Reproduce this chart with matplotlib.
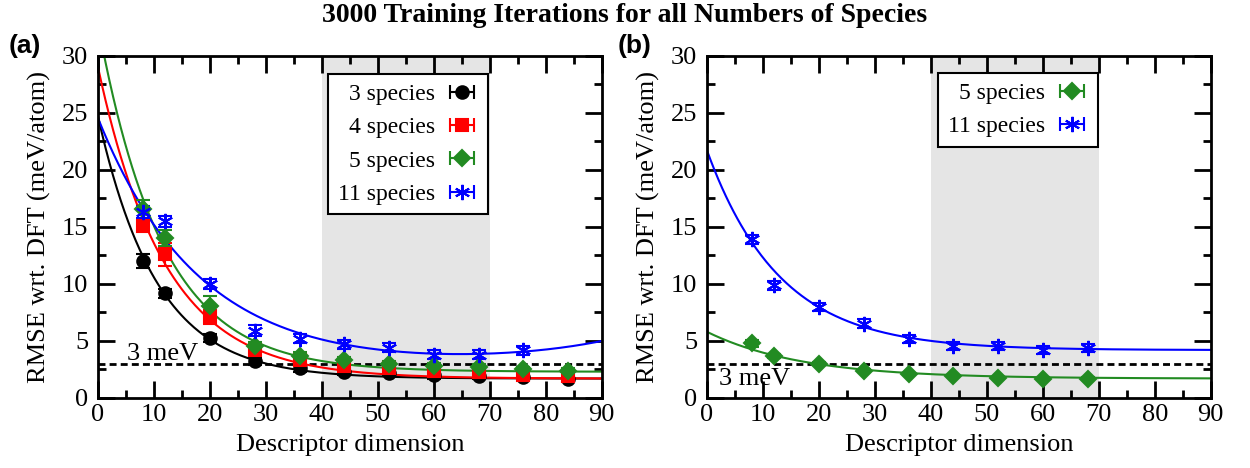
import numpy as np
import matplotlib.pyplot as plt
from matplotlib.ticker import MultipleLocator

# data
dims = [8, 12, 20, 28, 36, 44, 52, 60, 68, 76, 84]

rmse_3 = [12.0, 9.2, 5.3, 3.2, 2.6, 2.3, 2.2, 2.0, 1.9, 1.8, 1.7]
err_3 = [0.6, 0.4, 0.35, 0.3, 0.3, 0.25, 0.25, 0.3, 0.25, 0.2, 0.2]
rmse_4 = [15.1, 12.6, 7.1, 4.2, 3.3, 2.8, 2.6, 2.4, 2.3, 2.0, 1.9]
err_4 = [0.5, 1.0, 0.6, 0.35, 0.3, 0.25, 0.25, 0.3, 0.25, 0.2, 0.2]
rmse_5 = [16.6, 14.0, 8.1, 4.6, 3.7, 3.3, 3.0, 2.8, 2.7, 2.5, 2.4]
err_5 = [0.8, 0.7, 0.8, 0.3, 0.3, 0.3, 0.25, 0.25, 0.25, 0.2, 0.2]
rmse_11 = [16.3, 15.5, 10.0, 5.9, 5.2, 4.7, 4.4, 3.8, 3.8, 4.2]
err_11 = [0.5, 0.5, 0.4, 0.5, 0.4, 0.4, 0.4, 0.4, 0.4, 0.4]

dims_b = [8, 12, 20, 28, 36, 44, 52, 60, 68]
rmse_5b = [4.8, 3.7, 3.0, 2.4, 2.1, 1.9, 1.75, 1.7, 1.7]
err_5b = [0.3, 0.2, 0.15, 0.15, 0.1, 0.1, 0.1, 0.1, 0.1]
rmse_11b = [13.9, 9.9, 8.0, 6.5, 5.2, 4.6, 4.6, 4.2, 4.4]
err_11b = [0.4, 0.4, 0.35, 0.4, 0.35, 0.35, 0.35, 0.35, 0.35]

# fit parameters a*exp(-x/b) + c (+ k*exp((x-90)/g) for the 11 species curve in (a))
fit_3 = (23.0, 10.5, 1.7)
fit_4 = (27.3, 12.0, 1.7)
fit_5 = (30.5, 11.5, 2.3)
fit_11 = (22.0, 18.0, 2.5, 2.35, 22.0)
fit_5b = (4.1, 17.0, 1.7)
fit_11b = (17.5, 13.0, 4.2)

shade = (40, 70)
target = 3.0

plt.rcParams['font.family'] = ['Liberation Serif', 'DejaVu Serif']

BLACK, RED, GREEN, BLUE = '#000000', '#ff0000', '#228b22', '#0000ff'
ASTER = (6, 2, 0)
FS = 19
LFS = 17

xs = np.linspace(0, 90, 400)


def expfit(p, x):
    return p[0] * np.exp(-x / p[1]) + p[2]


def expfit_rise(p, x):
    return p[0] * np.exp(-x / p[1]) + p[2] + p[3] * np.exp((x - 90) / p[4])


def style_axes(ax):
    ax.set_xlim(0, 90)
    ax.set_ylim(0, 30)
    ax.axvspan(shade[0], shade[1], color='#e5e5e5', zorder=0, lw=0)
    ax.axhline(target, color='k', ls=(0, (2.5, 1.5)), lw=2, zorder=1)
    ax.xaxis.set_major_locator(MultipleLocator(10))
    ax.xaxis.set_minor_locator(MultipleLocator(5))
    ax.yaxis.set_major_locator(MultipleLocator(5))
    ax.yaxis.set_minor_locator(MultipleLocator(2.5))
    ax.tick_params(which='both', direction='in', top=True, right=True, width=2,
                   labelsize=FS)
    ax.tick_params(axis='x', pad=4)
    ax.tick_params(axis='y', pad=7)
    ax.tick_params(which='major', length=12)
    ax.tick_params(which='minor', length=6)
    for s in ax.spines.values():
        s.set_linewidth(2)
    ax.set_xlabel('Descriptor dimension', fontsize=FS, labelpad=6)
    ax.set_ylabel('RMSE wrt. DFT (meV/atom)', fontsize=FS, labelpad=8)


def series(ax, x, y, e, color, marker, ms):
    ax.errorbar(x, y, yerr=e, fmt='', linestyle='none', marker=marker, color=color,
                ms=ms, capsize=5, elinewidth=1.5, capthick=1.5, mew=1.5, zorder=3)


def legend_handles(ax, entries):
    handles = []
    for color, marker, ms, label in entries:
        h = ax.errorbar([np.nan], [np.nan], xerr=[1.0], fmt='', linestyle='none',
                        marker=marker, color=color, ms=ms, capsize=5, elinewidth=1.5,
                        capthick=1.5, mew=1.5, label=label)
        handles.append(h)
    return handles


def add_legend(ax, handles, anchor):
    leg = ax.legend(handles=handles, loc='upper right', bbox_to_anchor=anchor,
                    markerfirst=False, fontsize=LFS, frameon=True, fancybox=False,
                    edgecolor='k', framealpha=1, handlelength=1.4, handletextpad=0.45,
                    borderpad=0.4, labelspacing=0.5, borderaxespad=0)
    leg.get_frame().set_linewidth(1.5)
    return leg


fig = plt.figure(figsize=(12.5, 4.68), dpi=100)
ax1 = fig.add_axes([0.0784, 0.1496, 0.403, 0.731])
ax2 = fig.add_axes([0.5656, 0.1496, 0.403, 0.731])

# panel (a)
style_axes(ax1)
ax1.plot(xs, expfit(fit_3, xs), color=BLACK, lw=1.5, zorder=2)
ax1.plot(xs, expfit(fit_4, xs), color=RED, lw=1.5, zorder=2)
ax1.plot(xs, expfit(fit_5, xs), color=GREEN, lw=1.5, zorder=2)
ax1.plot(xs, expfit_rise(fit_11, xs), color=BLUE, lw=1.5, zorder=2)
series(ax1, dims, rmse_3, err_3, BLACK, 'o', 9)
series(ax1, dims, rmse_4, err_4, RED, 's', 8.5)
series(ax1, dims, rmse_5, err_5, GREEN, 'D', 8.5)
series(ax1, dims[:len(rmse_11)], rmse_11, err_11, BLUE, ASTER, 11)
ax1.text(5.2, 3.3, '3 meV', fontsize=FS, ha='left', va='baseline')
h1 = legend_handles(ax1, [(BLACK, 'o', 9, '3 species'), (RED, 's', 8.5, '4 species'),
                          (GREEN, 'D', 8.5, '5 species'), (BLUE, ASTER, 11, '11 species')])
add_legend(ax1, h1, (0.774, 0.947))
ax1.text(-0.178, 1.008, '(a)', transform=ax1.transAxes, fontsize=FS, fontweight='bold',
         family=['Liberation Sans', 'DejaVu Sans'], ha='left', va='baseline')

# panel (b)
style_axes(ax2)
ax2.plot(xs, expfit(fit_5b, xs), color=GREEN, lw=1.5, zorder=2)
ax2.plot(xs, expfit(fit_11b, xs), color=BLUE, lw=1.5, zorder=2)
series(ax2, dims_b, rmse_5b, err_5b, GREEN, 'D', 8.5)
series(ax2, dims_b, rmse_11b, err_11b, BLUE, ASTER, 11)
ax2.text(2.2, 2.65, '3 meV', fontsize=FS, ha='left', va='top')
h2 = legend_handles(ax2, [(GREEN, 'D', 8.5, '5 species'), (BLUE, ASTER, 11, '11 species')])
add_legend(ax2, h2, (0.776, 0.95))
ax2.text(-0.178, 1.008, '(b)', transform=ax2.transAxes, fontsize=FS, fontweight='bold',
         family=['Liberation Sans', 'DejaVu Sans'], ha='left', va='baseline')

fig.text(0.5, 0.967, '3000 Training Iterations for all Numbers of Species', fontsize=20,
         fontweight='bold', ha='center', va='center')

fig.savefig('out.png', dpi=100)
